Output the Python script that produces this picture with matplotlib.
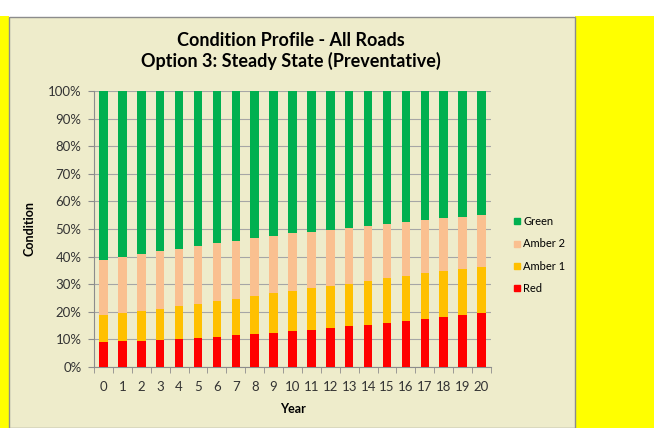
import matplotlib.pyplot as plt
from matplotlib.patches import Rectangle
from matplotlib.lines import Line2D
from matplotlib.ticker import FixedLocator, PercentFormatter
import numpy as np

plt.rcParams['font.family'] = ['Lato', 'DejaVu Sans']

years = list(range(21))
# cumulative tops (%)
red_top = [8.9, 9.3, 9.5, 9.8, 10.0, 10.5, 11.0, 11.5, 11.9, 12.4, 12.9,
           13.3, 14.0, 14.7, 15.2, 15.9, 16.8, 17.5, 18.2, 19.0, 19.7]
amber1_top = [18.8, 19.5, 20.3, 21.1, 22.0, 22.9, 23.9, 24.8, 25.7, 26.7, 27.6,
              28.6, 29.2, 30.2, 31.2, 32.1, 33.1, 34.0, 34.8, 35.6, 36.2]
amber2_top = [38.7, 39.9, 41.0, 42.0, 42.9, 43.9, 44.9, 45.8, 46.7, 47.6, 48.5,
              48.9, 49.7, 50.5, 51.2, 51.9, 52.6, 53.3, 53.9, 54.5, 55.1]

red = np.array(red_top)
amber1 = np.array(amber1_top) - red
amber2 = np.array(amber2_top) - np.array(amber1_top)
green = 100 - np.array(amber2_top)

c_green = '#00B050'
c_amber2 = '#FAC090'
c_amber1 = '#FFC000'
c_red = '#FF0000'
bg = '#EEECCB'

W, H = 654, 428
fig = plt.figure(figsize=(W / 100, H / 100), dpi=100)
fig.patch.set_facecolor('white')

# yellow surround and chart area
fig.patches.append(Rectangle((0, 0), 9 / W, (H - 16) / H, transform=fig.transFigure,
                             facecolor='#FFFF00', edgecolor='none', zorder=-2))
fig.patches.append(Rectangle((575 / W, 0), (W - 575) / W, (H - 16) / H, transform=fig.transFigure,
                             facecolor='#FFFF00', edgecolor='none', zorder=-2))
fig.patches.append(Rectangle((9 / W, 0), 566 / W, (H - 17) / H, transform=fig.transFigure,
                             facecolor=bg, edgecolor='#8C8C8C', lw=1.0, zorder=-1))

ax = fig.add_axes([94 / W, (H - 367) / H, 397 / W, 276 / H])
ax.set_facecolor('none')
ax.set_zorder(2)

x = np.arange(len(years))
bw = 0.45
ax.bar(x, red, bw, color=c_red, zorder=3)
ax.bar(x, amber1, bw, bottom=red, color=c_amber1, zorder=3)
ax.bar(x, amber2, bw, bottom=red + amber1, color=c_amber2, zorder=3)
ax.bar(x, green, bw, bottom=red + amber1 + amber2, color=c_green, zorder=3)

ax.set_xlim(-0.5, len(years) - 0.5)
ax.set_ylim(0, 100)
ax.set_yticks(np.arange(0, 101, 10))
ax.yaxis.set_major_formatter(PercentFormatter(decimals=0))
ax.set_xticks(x)
ax.set_xticklabels([str(y) for y in years])
ax.xaxis.set_minor_locator(FixedLocator(np.arange(-0.5, len(years), 1)))
ax.tick_params(axis='x', which='major', length=0, labelsize=9.5, pad=10, colors='#333333')
ax.tick_params(axis='x', which='minor', length=4, color='#8C8C8C')
ax.tick_params(axis='y', which='major', length=4, color='#8C8C8C', labelsize=9.5,
               labelcolor='#333333', pad=5)
ax.grid(axis='y', color='#A6A6A6', lw=0.8, zorder=0)
for s in ['top', 'right']:
    ax.spines[s].set_visible(False)
for s in ['left', 'bottom']:
    ax.spines[s].set_color('#8C8C8C')

ax.set_xlabel('Year', fontsize=9, fontweight='bold', labelpad=7)
ax.set_ylabel('Condition', fontsize=9, fontweight='bold', labelpad=9)

fig.text(291 / W, 1 - 40 / H, 'Condition Profile - All Roads', ha='center', va='center',
         fontsize=13, fontweight='bold')
fig.text(291 / W, 1 - 61 / H, 'Option 3: Steady State (Preventative)', ha='center', va='center',
         fontsize=13, fontweight='bold')

handles = [Line2D([], [], ls='none', marker='s', ms=5, color=c) for c in
           [c_green, c_amber2, c_amber1, c_red]]
labels = ['Green', 'Amber 2', 'Amber 1', 'Red']
fig.legend(handles, labels, loc='center left', bbox_to_anchor=(501 / W, 1 - 255 / H),
           frameon=False, fontsize=8, handletextpad=0.1, labelspacing=1.0,
           handlelength=1.0)

plt.savefig('out.png', dpi=100)
plt.close()
